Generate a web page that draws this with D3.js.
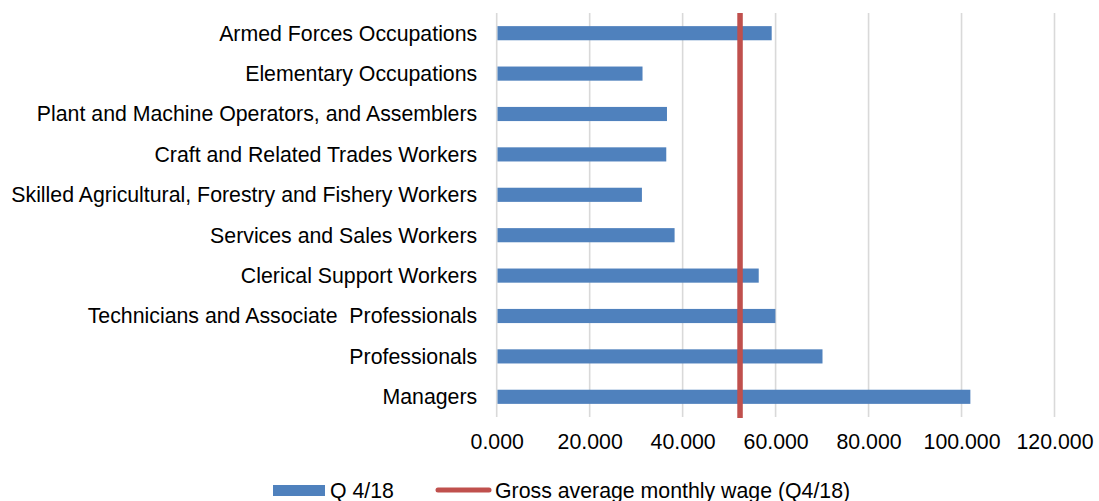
<!DOCTYPE html>
<html>
<head>
<meta charset="utf-8">
<script src="https://cdn.jsdelivr.net/npm/d3@7"></script>
<style>
  body { margin: 0; background: #fff; }
  svg { display: block; font-family: "Liberation Sans", Arial, sans-serif; }
  .lbl { font-size: 21.3px; fill: #000; }
</style>
</head>
<body>
<svg id="chart" width="1099" height="501"></svg>
<script>
// occupations, top to bottom as shown
let occupations = [
  "Armed Forces Occupations",
  "Elementary Occupations",
  "Plant and Machine Operators, and Assemblers",
  "Craft and Related Trades Workers",
  "Skilled Agricultural, Forestry and Fishery Workers",
  "Services and Sales Workers",
  "Clerical Support Workers",
  "Technicians and Associate  Professionals",
  "Professionals",
  "Managers"
]
// Q 4/18 wages (thousands)
let wages = [59.16, 31.37, 36.63, 36.48, 31.24, 38.27, 56.37, 59.96, 70.09, 101.9]
let avgWage = 52.35
let xTicks = [0, 20, 40, 60, 80, 100, 120]
let seriesName = "Q 4/18"
let avgName = "Gross average monthly wage (Q4/18)"

let blue = "#4F81BD"
let red = "#C0504D"
let grid = "#d9d9d9"

let svg = d3.select("#chart")
let plotTop = 13, plotBottom = 417, plotLeft = 496.7, plotRight = 1054.5

let xScale = d3.scaleLinear().domain([0, 120]).range([plotLeft, plotRight])
let yScale = d3.scaleBand().domain(occupations).range([plotTop, plotBottom]).paddingInner(0.65).paddingOuter(0.325)

// gridlines
svg.append("g").selectAll("line").data(xTicks).join("line")
  .attr("x1", d => xScale(d)).attr("x2", d => xScale(d))
  .attr("y1", plotTop).attr("y2", plotBottom)
  .attr("stroke", grid).attr("stroke-width", 1.6)

// x tick labels
let xAxis = d3.axisBottom(xScale).tickValues(xTicks).tickFormat(d3.format(".3f")).tickSize(0).tickPadding(0)
let gx = svg.append("g").attr("transform", "translate(0," + 448.5 + ")").call(xAxis)
gx.select(".domain").remove()
gx.attr("font-family", null).attr("font-size", null)
gx.selectAll("text").attr("class", "lbl").attr("dy", 0).attr("fill", "#000")

// category labels
let yAxis = d3.axisLeft(yScale).tickSize(0).tickPadding(0)
let gy = svg.append("g").attr("transform", "translate(" + (plotLeft - 19.5) + ",0)").call(yAxis)
gy.select(".domain").remove()
gy.attr("font-family", null).attr("font-size", null)
gy.selectAll("text").attr("class", "lbl").attr("dy", "0.35em").attr("fill", "#000")
  .style("white-space", "pre")

// bars
svg.append("g").selectAll("rect").data(occupations).join("rect")
  .attr("x", xScale(0) + 0.8)
  .attr("y", d => yScale(d))
  .attr("width", (d, i) => xScale(wages[i]) - xScale(0) - 0.8)
  .attr("height", yScale.bandwidth())
  .attr("fill", blue)

// average wage line
svg.append("line")
  .attr("x1", xScale(avgWage)).attr("x2", xScale(avgWage))
  .attr("y1", plotTop).attr("y2", plotBottom + 1)
  .attr("stroke", red).attr("stroke-width", 5.5)

// legend
let legend = svg.append("g")
legend.append("rect").attr("x", 273).attr("y", 485).attr("width", 52).attr("height", 11).attr("fill", blue)
legend.append("text").attr("class", "lbl").attr("x", 330).attr("y", 497.5).text(seriesName)
legend.append("line").attr("x1", 438).attr("x2", 489).attr("y1", 490).attr("y2", 490)
  .attr("stroke", red).attr("stroke-width", 5).attr("stroke-linecap", "round")
legend.append("text").attr("class", "lbl").attr("x", 495).attr("y", 497.5).text(avgName)
</script>
</body>
</html>
